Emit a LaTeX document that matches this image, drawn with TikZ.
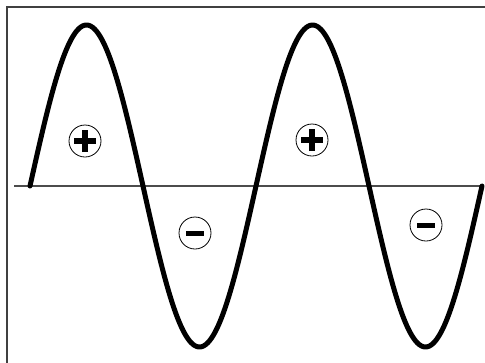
\documentclass[tikz,border=0pt]{standalone}
\begin{document}
\begin{tikzpicture}[x=1pt,y=-1pt,
  frame/.style={draw=black!75,line width=2pt},
  axisline/.style={draw=black!70,line width=1.6pt},
  wave/.style={draw=black,line width=5pt,line join=round,line cap=round},
  signcircle/.style={circle,draw=black,line width=0.8pt,minimum size=32pt,inner sep=0pt},
  bar/.style={draw=black,line width=5.5pt,line cap=butt}]
\useasboundingbox (0,0) rectangle (485,362);
\clip (0,0) rectangle (485,362);
\fill[white] (0,0) rectangle (485,362);
% frame (right and bottom edges lie outside the picture)
\coordinate (fTL) at (6.5,7);
\coordinate (fTR) at (500,7);
\coordinate (fBL) at (6.5,380);
\draw[frame] (fBL) -- (fTL) -- (fTR);
% axis
\coordinate (axL) at (14,186);
\coordinate (axR) at (482,186);
\draw[axisline] (axL) -- (axR);
% sine wave
\draw[wave] plot[domain=0:720,samples=240,smooth] ({30+0.627778*\x},{186-161*sin(\x)});
% signs
\node[signcircle] (p1) at (85,141) {};
\node[signcircle] (m1) at (195,233) {};
\node[signcircle] (p2) at (312,140) {};
\node[signcircle] (m2) at (426,225) {};
\foreach \n in {p1,p2}{
  \draw[bar] ([xshift=-11pt]\n.center) -- ([xshift=11pt]\n.center);
  \draw[bar] ([yshift=-11pt]\n.center) -- ([yshift=11pt]\n.center);
}
\foreach \n in {m1,m2}{
  \draw[bar,line width=5pt] ([xshift=-9pt]\n.center) -- ([xshift=9pt]\n.center);
}
\end{tikzpicture}
\end{document}
